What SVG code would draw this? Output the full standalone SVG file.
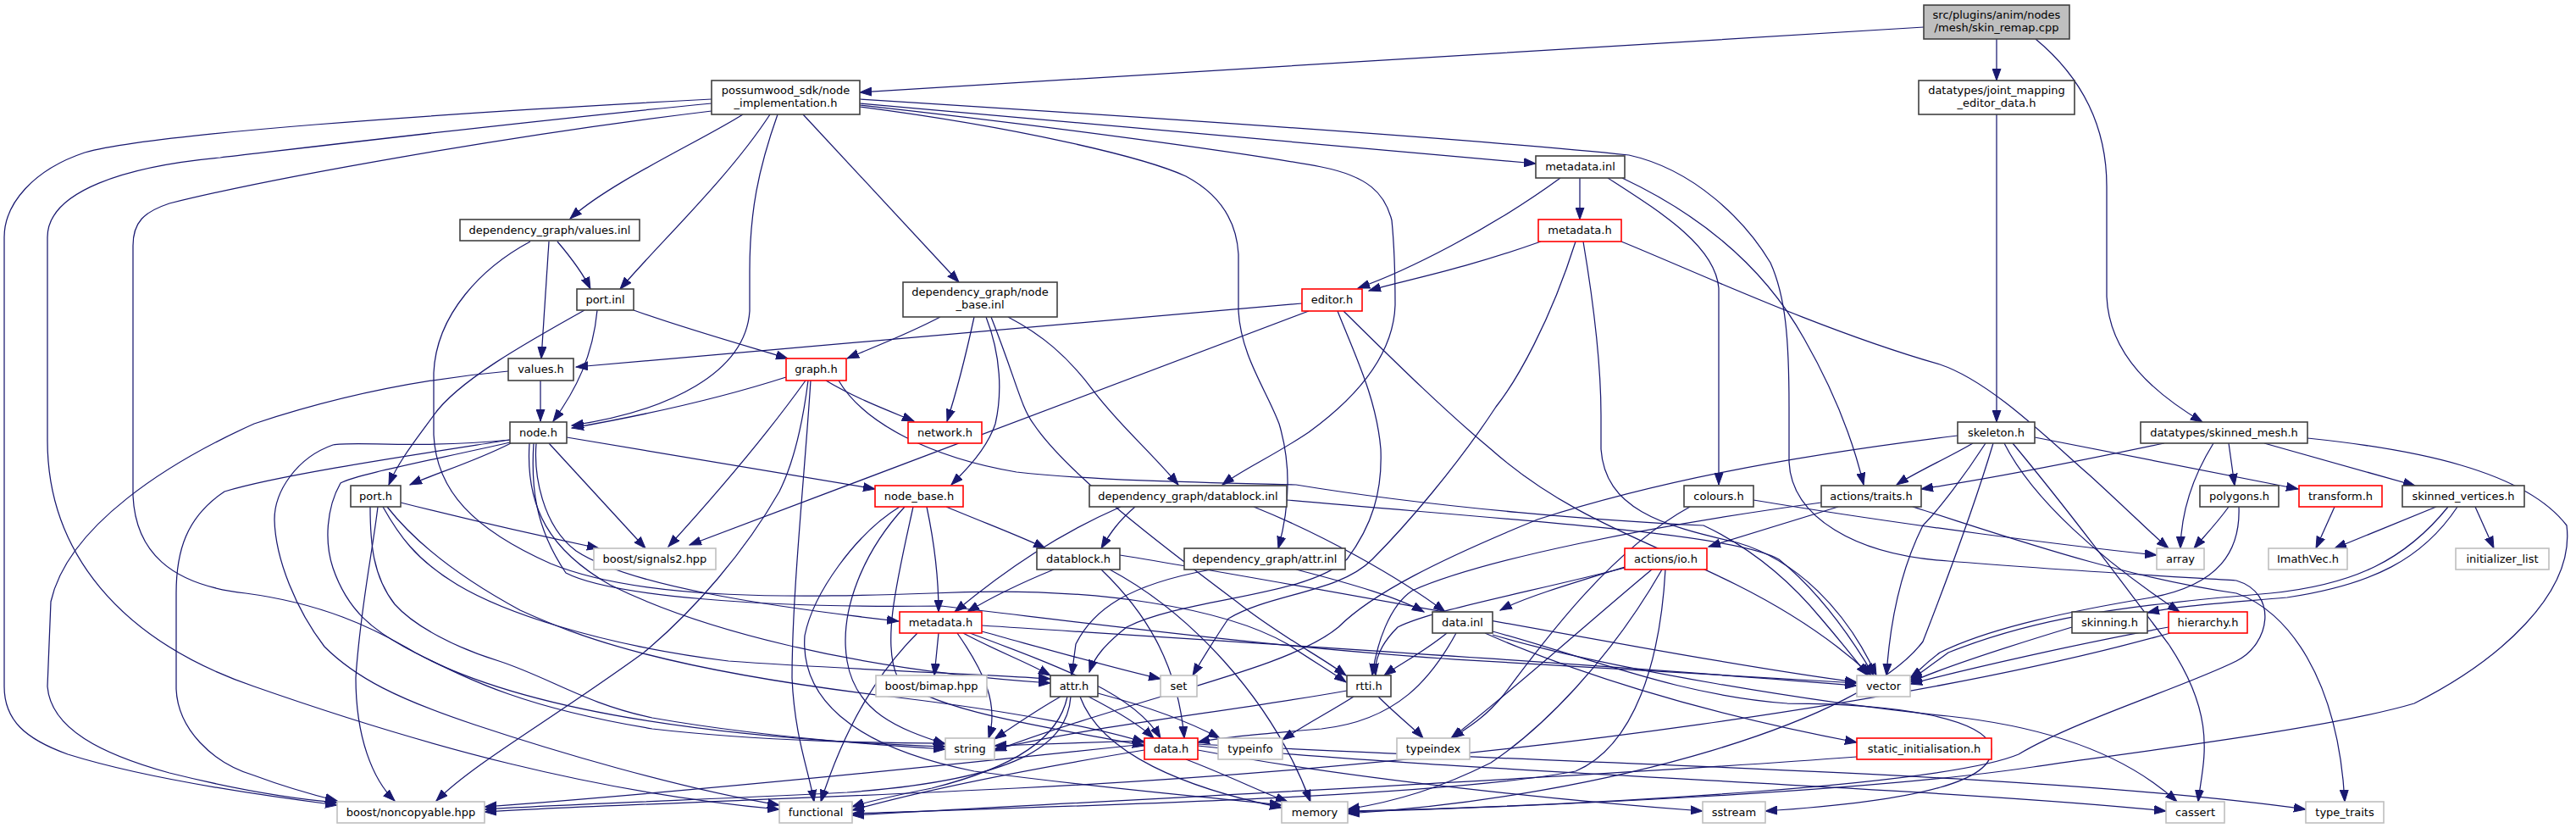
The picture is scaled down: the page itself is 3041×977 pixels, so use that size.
<svg xmlns="http://www.w3.org/2000/svg" width="3041" height="977" viewBox="0 0 3041 977">
<defs>
<style>
.bx{fill:#fff;stroke:#404040;stroke-width:1.6}
.rd{fill:#fff;stroke:#ff0000;stroke-width:1.6}
.gy{fill:#fff;stroke:#bfbfbf;stroke-width:1.6}
.tp{fill:#bfbfbf;stroke:#404040;stroke-width:1.6}
text{font-family:"DejaVu Sans",sans-serif;font-size:13px;fill:#000;text-anchor:middle}
.e path{fill:none;stroke:#191970;stroke-width:1.25;marker-end:url(#a)}
</style>
<marker id="a" markerWidth="15" markerHeight="11" refX="14" refY="5.5" orient="auto" markerUnits="userSpaceOnUse"><path d="M0,0.5 L14,5.5 L0,10.5 z" fill="#191970" stroke="#191970" stroke-width="1"/></marker>
</defs>
<rect width="3041" height="977" fill="#fff"/>
<g class="e" id="edges">
<path d="M2271,32 C1900,55 1400,85 1015,109"/>
<path d="M2357,46 L2357,95"/>
<path d="M2403,46 C2450,85 2487,140 2487,220 L2487,350 C2490,420 2545,465 2600,498"/>
<path d="M2357,135 L2357,498"/>
<path d="M840,117 C500,135 180,158 100,180 C40,200 5,240 5,280 L5,810 C5,850 30,872 80,890 C160,915 280,935 398,950"/>
<path d="M840,122 C600,145 330,178 260,186 C150,196 56,225 56,280 L56,520 C56,650 140,755 300,810 C500,880 700,935 920,955"/>
<path d="M840,131 C600,160 320,210 200,240 C170,250 157,262 157,290 L157,585 C160,650 200,690 290,700 C380,712 440,740 490,770 C600,830 800,870 1116,881"/>
<path d="M877,135 C830,165 720,215 673,258"/>
<path d="M909,135 C860,210 780,285 732,341"/>
<path d="M918,135 C895,200 885,250 885,320 L885,367 C880,440 790,485 675,502"/>
<path d="M948,135 L1132,333"/>
<path d="M1015,122 L1813,193"/>
<path d="M1015,117 C1300,135 1750,165 1923,183 C2000,200 2060,260 2090,310 C2108,350 2112,400 2112,480 L2112,545 C2115,610 2190,655 2300,662 C2420,672 2560,680 2640,685 C2690,700 2680,760 2640,780 C2580,810 2450,850 2383,890 C2300,925 1900,950 1591,957"/>
<path d="M1015,124 C1250,150 1480,182 1560,197 C1615,208 1635,228 1643,260 C1647,300 1647,330 1647,360 C1645,420 1600,470 1545,510 C1505,537 1465,555 1443,572"/>
<path d="M1015,126 C1200,150 1350,185 1400,208 C1445,232 1460,265 1462,300 L1462,367 C1465,420 1495,460 1510,500 C1525,550 1522,600 1509,647"/>
<path d="M658,285 C675,305 688,322 697,341"/>
<path d="M648,285 L639,423"/>
<path d="M626,285 C570,315 515,370 512,440 L512,513 C515,580 560,625 650,665 C760,710 950,705 1100,700 C1300,690 1450,720 1520,760 C1550,780 1575,795 1589,805"/>
<path d="M638,449 L638,497"/>
<path d="M600,438 C520,445 420,460 300,500 C200,545 80,620 60,710 L56,810 C60,860 120,890 200,912 C280,932 340,942 398,947"/>
<path d="M748,366 C800,385 870,405 930,423"/>
<path d="M705,366 C700,420 680,460 653,497"/>
<path d="M690,366 C620,405 540,450 512,490 C490,520 470,545 459,572"/>
<path d="M1110,374 C1070,395 1030,410 1000,423"/>
<path d="M1150,374 C1140,420 1130,460 1118,497"/>
<path d="M1164,374 C1182,420 1183,465 1175,500 C1165,530 1140,555 1123,572"/>
<path d="M1170,374 C1200,450 1205,480 1220,500 C1260,560 1380,650 1460,710 C1510,750 1560,775 1589,797"/>
<path d="M1190,374 C1230,395 1260,420 1290,460 C1320,500 1360,535 1391,572"/>
<path d="M928,445 C850,470 760,490 675,505"/>
<path d="M951,449 C900,520 830,600 789,645"/>
<path d="M954,449 C945,520 930,560 920,580 C880,650 820,720 760,770 C650,850 560,900 515,945"/>
<path d="M957,449 C950,560 935,700 935,800 C938,870 955,910 961,946"/>
<path d="M975,449 C1010,470 1050,485 1079,497"/>
<path d="M990,449 C1020,500 1100,540 1200,557 C1300,568 1450,570 1530,572 C1700,600 1900,615 2011,620 C2060,643 2109,680 2150,730 C2180,765 2195,785 2205,797"/>
<path d="M1537,358 C1200,390 900,415 680,433"/>
<path d="M1545,367 L814,643"/>
<path d="M1579,367 C1600,420 1625,470 1630,530 C1632,580 1620,620 1590,660 C1540,705 1400,705 1330,740 C1305,760 1292,775 1286,793"/>
<path d="M1586,367 C1640,420 1700,480 1760,530 C1850,610 1950,640 2050,690 C2130,730 2180,770 2209,797"/>
<path d="M1865,210 L1865,259"/>
<path d="M1842,210 C1760,270 1660,320 1603,340"/>
<path d="M1898,210 C1960,250 2025,290 2029,340 L2029,572"/>
<path d="M1915,210 C2000,250 2080,310 2130,400 C2170,470 2190,530 2200,572"/>
<path d="M1819,285 C1720,320 1660,330 1616,343"/>
<path d="M1860,285 C1830,380 1790,450 1766,480 C1720,550 1660,620 1620,660 C1580,700 1500,700 1450,730 C1430,760 1415,785 1408,797"/>
<path d="M1869,285 C1885,380 1890,440 1890,490 L1890,530 C1895,600 1960,620 2050,640 C2120,660 2180,720 2215,797"/>
<path d="M1914,285 C2000,320 2150,390 2290,430 C2350,450 2420,520 2466,560 C2510,600 2540,630 2560,647"/>
<path d="M2070,590 C2250,620 2450,645 2546,655"/>
<path d="M1995,598 C1900,650 1820,760 1775,820 C1750,850 1730,860 1714,871"/>
<path d="M2170,598 C2100,620 2050,635 2017,645"/>
<path d="M2150,593 C1950,620 1750,660 1667,697 C1640,715 1625,760 1620,797"/>
<path d="M2258,598 C2360,630 2500,680 2640,700 C2700,720 2760,800 2768,946"/>
<path d="M1925,667 C1850,690 1800,705 1771,720"/>
<path d="M1918,670 C1800,700 1690,720 1650,740 C1630,760 1622,780 1624,797"/>
<path d="M1950,672 C1880,730 1780,820 1713,871"/>
<path d="M1962,672 C1900,780 1820,860 1760,900 C1700,930 1650,945 1591,955"/>
<path d="M1966,672 C1960,780 1930,880 1860,910 C1700,940 1300,950 1006,960"/>
<path d="M1708,747 C1680,770 1650,785 1634,797"/>
<path d="M1719,747 C1690,800 1650,850 1560,860 C1500,865 1440,870 1414,876"/>
<path d="M1753,747 C1850,790 2000,840 2192,876"/>
<path d="M1762,745 C1880,777 1980,820 2110,830 C2250,830 2340,850 2350,880 C2360,920 2270,945 2084,957"/>
<path d="M1762,749 C1900,790 2150,830 2300,845 C2440,860 2520,900 2570,946"/>
<path d="M1627,822 C1650,845 1670,860 1680,871"/>
<path d="M1590,815 C1450,840 1300,855 1174,884"/>
<path d="M1598,822 C1570,840 1540,855 1514,873"/>
<path d="M1252,822 C1220,840 1195,858 1174,872"/>
<path d="M1260,822 C1250,870 1200,905 1100,930 C1050,940 1020,947 1006,952"/>
<path d="M1264,822 C1260,880 1200,920 1000,935 C800,945 650,950 572,955"/>
<path d="M1275,822 C1300,890 1400,930 1513,953"/>
<path d="M1285,822 C1320,840 1345,855 1362,871"/>
<path d="M1296,818 C1360,835 1410,855 1440,871"/>
<path d="M1351,878 C1100,905 800,935 572,952"/>
<path d="M1351,885 C1200,910 1080,935 1006,956"/>
<path d="M1400,896 C1450,915 1490,935 1520,946"/>
<path d="M1414,885 C1600,920 1850,945 2010,957"/>
<path d="M1414,880 C1700,910 2300,930 2557,957"/>
<path d="M1414,878 C1800,900 2400,910 2722,955"/>
<path d="M1351,874 C1280,876 1220,878 1174,880"/>
<path d="M1244,672 C1200,690 1170,705 1142,722"/>
<path d="M1300,672 C1350,720 1390,780 1398,871"/>
<path d="M1310,672 C1400,720 1500,820 1547,946"/>
<path d="M1322,655 C1600,700 2000,780 2192,805"/>
<path d="M1323,598 C1250,630 1190,670 1127,722"/>
<path d="M1340,598 C1320,615 1310,630 1300,647"/>
<path d="M1480,598 C1560,630 1650,680 1706,722"/>
<path d="M1519,590 C1800,615 2050,630 2100,660 C2150,700 2190,760 2212,797"/>
<path d="M1430,672 C1330,690 1290,720 1270,760 L1265,797"/>
<path d="M1530,672 C1600,690 1650,705 1681,722"/>
<path d="M1094,598 C1105,650 1108,690 1108,722"/>
<path d="M1117,598 C1170,620 1210,635 1234,647"/>
<path d="M1068,598 C1020,650 990,720 1000,780 C1010,840 1060,860 1116,878"/>
<path d="M1078,598 C1060,680 1040,760 1060,800 C1100,840 1250,860 1351,880"/>
<path d="M1062,598 C1010,630 960,700 950,750 C945,820 1000,880 1150,910 C1300,930 1420,940 1513,950"/>
<path d="M1083,747 C1040,790 1000,850 969,946"/>
<path d="M1108,747 L1103,797"/>
<path d="M1130,747 C1160,790 1180,830 1167,871"/>
<path d="M1137,747 C1180,770 1210,780 1240,797"/>
<path d="M1145,747 C1260,790 1340,820 1370,871"/>
<path d="M1159,745 C1250,770 1320,790 1370,801"/>
<path d="M1159,738 C1500,760 1900,785 2192,809"/>
<path d="M603,523 C560,545 510,560 484,572"/>
<path d="M648,523 L762,647"/>
<path d="M669,516 L1033,577"/>
<path d="M602,519 C500,535 330,560 265,580 C220,610 208,650 208,700 L208,813 C210,860 250,900 300,915 C340,930 370,938 398,945"/>
<path d="M602,519 C491,530 420,520 393,525 C350,540 324,580 324,613 C325,660 350,720 383,763 C420,800 470,825 560,855 C650,885 800,930 920,950"/>
<path d="M602,522 C500,545 420,560 402,570 C385,600 383,640 393,670 C410,720 440,745 490,770 C560,805 620,835 770,860 C900,875 1050,877 1116,877"/>
<path d="M633,523 C630,560 640,620 680,650 C740,690 900,715 1061,733"/>
<path d="M630,523 C627,570 630,620 668,676 C720,703 900,718 1111,715 C1300,737 1500,763 1703,777 C1900,790 2100,802 2192,806"/>
<path d="M625,523 C620,600 650,650 720,690 C820,740 1000,790 1240,806"/>
<path d="M473,593 C560,615 650,635 707,647"/>
<path d="M446,598 C440,650 425,720 420,800 C420,870 440,920 466,945"/>
<path d="M437,598 C437,640 440,680 466,713 C490,740 540,765 589,780 C650,800 690,830 770,847 C900,870 1050,880 1116,884"/>
<path d="M452,598 C470,630 490,660 540,690 C590,720 700,760 860,780 C1000,790 1150,795 1240,801"/>
<path d="M457,598 C490,640 540,680 614,720 C680,750 780,790 1060,823 C1200,840 1300,860 1351,876"/>
<path d="M2329,523 C2300,540 2260,558 2239,572"/>
<path d="M2344,523 C2320,560 2290,600 2270,620 C2240,680 2230,750 2227,797"/>
<path d="M2311,514 C2100,540 1950,570 1815,613 C1700,660 1620,700 1580,740 C1520,790 1350,820 1174,886"/>
<path d="M2366,523 C2400,590 2480,660 2573,722"/>
<path d="M2376,523 C2440,600 2500,680 2560,760 C2620,850 2600,900 2595,946"/>
<path d="M2402,516 L2713,577"/>
<path d="M2353,523 C2330,600 2300,680 2270,757 C2200,850 1900,940 1591,960"/>
<path d="M2555,523 C2450,545 2350,565 2268,577"/>
<path d="M2613,523 C2590,560 2575,600 2574,647"/>
<path d="M2631,523 L2638,573"/>
<path d="M2673,523 L2851,573"/>
<path d="M2724,517 C2850,530 2980,555 3030,620 C3040,700 2950,780 2850,830 C2750,860 2500,890 2400,905 C2200,935 1800,952 1591,958"/>
<path d="M2631,598 C2615,620 2600,635 2590,647"/>
<path d="M2643,598 C2645,650 2620,690 2540,705 C2450,720 2350,740 2290,770 C2270,785 2262,795 2255,800"/>
<path d="M2756,598 L2734,647"/>
<path d="M2876,598 L2756,647"/>
<path d="M2922,598 L2944,647"/>
<path d="M2901,598 C2860,660 2800,690 2700,705 C2620,712 2570,715 2535,723"/>
<path d="M2890,598 C2840,660 2780,690 2680,700 C2500,715 2400,730 2300,770 C2280,785 2265,795 2255,803"/>
<path d="M2446,740 C2380,760 2300,785 2255,805"/>
<path d="M2560,740 C2450,760 2320,790 2255,807"/>
<path d="M2562,747 C2300,820 1800,900 1200,930 C900,945 700,950 572,958"/>
<path d="M2192,893 C1900,915 1400,940 1006,962"/>
</g>
<g id="n_top"><rect class="tp" x="2271" y="6" width="172" height="40"/><text x="2357" y="22">src/plugins/anim/nodes</text><text x="2357" y="37">/mesh/skin_remap.cpp</text></g>
<g id="n_impl"><rect class="bx" x="840" y="95" width="175" height="40"/><text x="927.5" y="111">possumwood_sdk/node</text><text x="927.5" y="126">_implementation.h</text></g>
<g id="n_jmed"><rect class="bx" x="2265" y="95" width="184" height="40"/><text x="2357" y="111">datatypes/joint_mapping</text><text x="2357" y="126">_editor_data.h</text></g>
<g id="n_valinl"><rect class="bx" x="543" y="259" width="212" height="25"/><text x="649" y="276">dependency_graph/values.inl</text></g>
<g id="n_portinl"><rect class="bx" x="681" y="341" width="67" height="25"/><text x="714.5" y="358">port.inl</text></g>
<g id="n_values"><rect class="bx" x="600" y="423" width="77" height="26"/><text x="638.5" y="440">values.h</text></g>
<g id="n_nbinl"><rect class="bx" x="1066" y="333" width="182" height="41"/><text x="1157" y="349">dependency_graph/node</text><text x="1157" y="364">_base.inl</text></g>
<g id="n_graph"><rect class="rd" x="928" y="423" width="71" height="26"/><text x="963.5" y="440">graph.h</text></g>
<g id="n_mdinl"><rect class="bx" x="1813" y="184" width="105" height="26"/><text x="1865.5" y="201">metadata.inl</text></g>
<g id="n_mdh1"><rect class="rd" x="1816" y="259" width="98" height="26"/><text x="1865" y="276">metadata.h</text></g>
<g id="n_editor"><rect class="rd" x="1537" y="341" width="71" height="26"/><text x="1572.5" y="358">editor.h</text></g>
<g id="n_node"><rect class="bx" x="602" y="498" width="67" height="25"/><text x="635.5" y="515">node.h</text></g>
<g id="n_porth"><rect class="bx" x="414" y="573" width="59" height="25"/><text x="443.5" y="590">port.h</text></g>
<g id="n_sig"><rect class="gy" x="701" y="647" width="144" height="25"/><text x="773" y="664">boost/signals2.hpp</text></g>
<g id="n_nonc"><rect class="gy" x="398" y="946" width="174" height="25"/><text x="485" y="963">boost/noncopyable.hpp</text></g>
<g id="n_network"><rect class="rd" x="1072" y="498" width="87" height="25"/><text x="1115.5" y="515">network.h</text></g>
<g id="n_nodebase"><rect class="rd" x="1033" y="573" width="104" height="25"/><text x="1085" y="590">node_base.h</text></g>
<g id="n_dbinl"><rect class="bx" x="1286" y="573" width="233" height="25"/><text x="1402.5" y="590">dependency_graph/datablock.inl</text></g>
<g id="n_datablock"><rect class="bx" x="1224" y="647" width="98" height="25"/><text x="1273" y="664">datablock.h</text></g>
<g id="n_attrinl"><rect class="bx" x="1398" y="647" width="190" height="25"/><text x="1493" y="664">dependency_graph/attr.inl</text></g>
<g id="n_mdh2"><rect class="rd" x="1062" y="722" width="97" height="25"/><text x="1110.5" y="739">metadata.h</text></g>
<g id="n_bimap"><rect class="gy" x="1034" y="797" width="131" height="25"/><text x="1099.5" y="814">boost/bimap.hpp</text></g>
<g id="n_attr"><rect class="bx" x="1240" y="797" width="56" height="25"/><text x="1268" y="814">attr.h</text></g>
<g id="n_set"><rect class="gy" x="1370" y="797" width="43" height="25"/><text x="1391.5" y="814">set</text></g>
<g id="n_string"><rect class="gy" x="1116" y="871" width="58" height="25"/><text x="1145" y="888">string</text></g>
<g id="n_data"><rect class="rd" x="1351" y="871" width="63" height="25"/><text x="1382.5" y="888">data.h</text></g>
<g id="n_typeinfo"><rect class="gy" x="1438" y="871" width="76" height="25"/><text x="1476" y="888">typeinfo</text></g>
<g id="n_functional"><rect class="gy" x="920" y="946" width="86" height="25"/><text x="963" y="963">functional</text></g>
<g id="n_memory"><rect class="gy" x="1513" y="946" width="78" height="25"/><text x="1552" y="963">memory</text></g>
<g id="n_colours"><rect class="bx" x="1988" y="573" width="82" height="25"/><text x="2029" y="590">colours.h</text></g>
<g id="n_traits"><rect class="bx" x="2150" y="573" width="118" height="25"/><text x="2209" y="590">actions/traits.h</text></g>
<g id="n_io"><rect class="rd" x="1918" y="647" width="97" height="25"/><text x="1966.5" y="664">actions/io.h</text></g>
<g id="n_datainl"><rect class="bx" x="1691" y="722" width="71" height="25"/><text x="1726.5" y="739">data.inl</text></g>
<g id="n_rtti"><rect class="bx" x="1590" y="797" width="52" height="25"/><text x="1616" y="814">rtti.h</text></g>
<g id="n_vector"><rect class="gy" x="2192" y="797" width="63" height="25"/><text x="2223.5" y="814">vector</text></g>
<g id="n_typeindex"><rect class="gy" x="1649" y="871" width="86" height="25"/><text x="1692" y="888">typeindex</text></g>
<g id="n_static"><rect class="rd" x="2192" y="871" width="159" height="25"/><text x="2271.5" y="888">static_initialisation.h</text></g>
<g id="n_sstream"><rect class="gy" x="2010" y="946" width="74" height="25"/><text x="2047" y="963">sstream</text></g>
<g id="n_skeleton"><rect class="bx" x="2311" y="498" width="91" height="25"/><text x="2356.5" y="515">skeleton.h</text></g>
<g id="n_skmesh"><rect class="bx" x="2527" y="498" width="197" height="25"/><text x="2625.5" y="515">datatypes/skinned_mesh.h</text></g>
<g id="n_polygons"><rect class="bx" x="2597" y="573" width="93" height="25"/><text x="2643.5" y="590">polygons.h</text></g>
<g id="n_transform"><rect class="rd" x="2714" y="573" width="98" height="25"/><text x="2763" y="590">transform.h</text></g>
<g id="n_skverts"><rect class="bx" x="2836" y="573" width="144" height="25"/><text x="2908" y="590">skinned_vertices.h</text></g>
<g id="n_array"><rect class="gy" x="2546" y="647" width="56" height="25"/><text x="2574" y="664">array</text></g>
<g id="n_imath"><rect class="gy" x="2678" y="647" width="93" height="25"/><text x="2724.5" y="664">ImathVec.h</text></g>
<g id="n_initlist"><rect class="gy" x="2899" y="647" width="110" height="25"/><text x="2954" y="664">initializer_list</text></g>
<g id="n_skinning"><rect class="bx" x="2446" y="722" width="89" height="25"/><text x="2490.5" y="739">skinning.h</text></g>
<g id="n_hierarchy"><rect class="rd" x="2560" y="722" width="93" height="25"/><text x="2606.5" y="739">hierarchy.h</text></g>
<g id="n_cassert"><rect class="gy" x="2557" y="946" width="69" height="25"/><text x="2591.5" y="963">cassert</text></g>
<g id="n_typetraits"><rect class="gy" x="2722" y="946" width="92" height="25"/><text x="2768" y="963">type_traits</text></g>
</svg>
